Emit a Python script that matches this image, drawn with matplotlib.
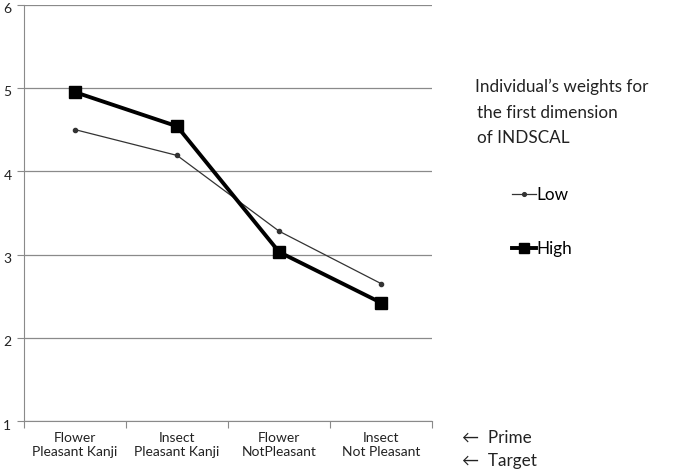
import matplotlib.pyplot as plt

plt.rcParams["font.family"] = ["Lato", "DejaVu Sans"]

categories = ["Flower\nPleasant Kanji", "Insect\nPleasant Kanji", "Flower\nNotPleasant", "Insect\nNot Pleasant"]
low = [4.50, 4.19, 3.28, 2.65]
high = [4.95, 4.54, 3.03, 2.42]
yticks = [1, 2, 3, 4, 5, 6]

fig = plt.figure(figsize=(6.85, 4.71), dpi=100)
ax = fig.add_axes([0.035, 0.106, 0.596, 0.884])

x = range(len(categories))
ax.plot(x, low, color="#333333", lw=0.9, marker="o", ms=3, label="Low")
ax.plot(x, high, color="black", lw=2.8, marker="s", ms=8, label="High")

ax.set_xlim(-0.5, len(categories) - 0.5)
ax.set_ylim(1, 6)
ax.set_yticks(yticks)
ax.set_yticklabels([])
# y labels sit a touch below their gridlines in the original
for v in yticks:
    ax.annotate(str(v), xy=(0, v), xycoords=("axes fraction", "data"),
                xytext=(-9, -2.5), textcoords="offset points",
                ha="right", va="center_baseline", fontsize=10, color="#222222",
                annotation_clip=False)
ax.yaxis.grid(True, color="#8a8a8a", lw=0.9)
ax.set_axisbelow(True)

# category labels between boundary ticks
ax.set_xticks([i - 0.5 for i in range(len(categories) + 1)])
ax.set_xticklabels([])
ax.set_xticks(list(x), minor=True)
ax.set_xticklabels(categories, minor=True, fontsize=10, color="#222222")
ax.tick_params(axis="x", which="minor", length=0, pad=8)
ax.tick_params(axis="x", which="major", length=5, color="#8a8a8a")
ax.tick_params(axis="y", length=5, color="#8a8a8a")

for side in ["top", "right"]:
    ax.spines[side].set_visible(False)
for side in ["left", "bottom"]:
    ax.spines[side].set_color("#8a8a8a")

fig.text(0.693, 0.815, "Individual\u2019s weights for", fontsize=12.3, color="#222222", va="center")
fig.text(0.697, 0.76, "the first dimension", fontsize=12.3, color="#222222", va="center")
fig.text(0.697, 0.707, "of INDSCAL", fontsize=12.3, color="#222222", va="center")

fig.legend(loc="upper left", bbox_to_anchor=(0.725, 0.635), frameon=False, fontsize=12.3,
           handlelength=1.4, handletextpad=0.05, labelspacing=2.2, markerscale=0.9)

fig.text(0.675, 0.07, "\u2190  Prime", fontsize=12.3, color="#222222", va="center")
fig.text(0.675, 0.022, "\u2190  Target", fontsize=12.3, color="#222222", va="center")

fig.savefig("out.png", dpi=100)
